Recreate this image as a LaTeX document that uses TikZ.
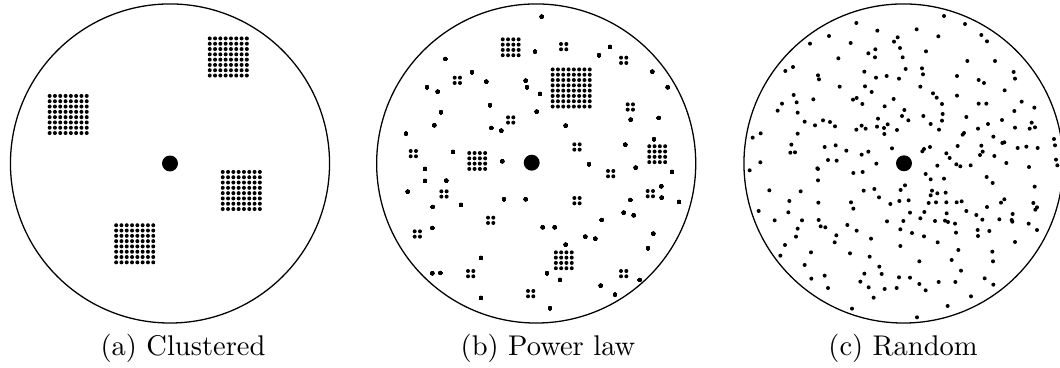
\documentclass[tikz,border=0pt]{standalone}
\usepackage{amssymb}

% n x n block of small dots centred at (#1,#2)
\newcommand{\dotgrid}[3]{%
	\foreach \i in {1,...,#3}{\foreach \j in {1,...,#3}{
		\fill (#1+5.3*\i-2.65*#3-2.65, #2+5.3*\j-2.65*#3-2.65) circle[radius=0.7pt];}}}

\begin{document}
\begin{tikzpicture}[x=0.351pt, y=-0.351pt,
		disc/.style={line width=0.45pt},
		caption/.style={anchor=base, inner sep=0pt}]
			\useasboundingbox (0, 0) rectangle (1060, 368);
			% (a) clustered
			\draw[disc] (170, 163.5) circle[radius=56pt];
			\fill (170, 163.5) circle[radius=2.8pt];
			\dotgrid{228.3}{57}{8}
			\dotgrid{68.2}{114.5}{8}
			\dotgrid{241.3}{190.5}{8}
			\dotgrid{134.7}{243.8}{8}
			\node[caption] (capA) at (183, 356) {(a) Clustered};
			% (b) power law
			\draw[disc] (536.2, 163.5) circle[radius=56pt];
			\fill (531.7, 162.7) circle[radius=2.8pt];
			\dotgrid{571.2}{88}{8}
			\dotgrid{510.7}{47.3}{4}
			\dotgrid{477.2}{161}{4}
			\dotgrid{657.2}{154.2}{4}
			\dotgrid{563.8}{260.3}{4}
			\foreach \X/\Y in {611/140, 791/181, 292/241, 811/321, 452/360, 651/441, 160/461, 752/521,
				252/582, 871/581, 651/602, 392/661, 172/702, 332/821, 791/821, 512/881}
				\dotgrid{360+\X/3}{\Y/3}{2}
			\foreach \X/\Y in {545/50, 525/155, 750/141, 717/166, 256/177, 336/217, 379/245, 497/242,
				501/262, 201/262, 233/275, 540/282, 877/215, 923/262, 390/316, 530/335, 243/337, 812/359,
				896/354, 223/376, 394/384, 424/392, 617/377, 138/401, 882/418, 796/434, 279/456, 427/484,
				687/493, 195/507, 827/503, 936/516, 195/543, 259/542, 904/559, 143/575, 432/598, 497/598,
				303/615, 218/621, 811/600, 905/593, 957/606, 791/638, 821/646, 725/660, 548/682, 584/682,
				217/684, 676/710, 706/716, 880/701, 617/734, 864/745, 363/774, 217/820, 241/819, 561/820,
				600/840, 839/840, 722/857, 765/884, 363/894, 570/925}
				\fill (360+\X/3, \Y/3) circle[radius=0.7pt];
			\node[caption] (capB) at (548, 356) {(b) Power law};
			% (c) random
			\draw[disc] (903.5, 163.5) circle[radius=56pt];
			\fill (904, 163.3) circle[radius=2.8pt];
			\foreach \X/\Y in {672/48, 735/72, 409/69, 472/92, 590/88, 327/108, 784/105, 655/109, 533/112,
				522/125, 801/124, 270/131, 392/129, 540/144, 466/148, 445/160, 618/154, 465/172, 548/172,
				355/175, 742/183, 825/183, 219/201, 196/213, 557/207, 606/205, 433/215, 609/223, 294/226,
				297/238, 468/233, 500/228, 537/236, 711/228, 776/240, 792/249, 881/216, 885/236, 359/260,
				435/259, 455/276, 601/260, 711/287, 854/271, 639/280, 650/293, 221/285, 280/298, 186/311,
				173/332, 230/307, 399/299, 410/294, 427/312, 521/297, 666/312, 776/311, 799/311, 905/305,
				883/333, 943/323, 494/319, 553/330, 546/348, 565/361, 610/348, 668/342, 666/362, 739/351,
				233/338, 254/365, 285/376, 309/361, 330/366, 345/379, 474/356, 471/380, 492/384, 503/373,
				493/402, 531/390, 632/372, 657/389, 774/386, 804/372, 846/360, 885/383, 935/368, 929/386,
				945/382, 409/389, 425/377, 437/386, 122/400, 98/413, 233/401, 732/399, 728/404, 820/410,
				847/429, 853/427, 214/434, 211/458, 225/457, 314/441, 347/436, 379/452, 425/464, 445/455,
				516/445, 607/454, 612/447, 630/441, 679/460, 689/474, 713/438, 784/437, 780/465, 788/455,
				823/468, 893/444, 919/440, 953/444, 1002/417, 1005/436, 121/487, 89/511, 324/480, 350/482,
				469/491, 292/505, 294/507, 400/519, 428/516, 294/541, 652/497, 709/493, 721/499, 752/496,
				859/489, 927/501, 1008/479, 1012/496, 617/522, 632/538, 672/536, 800/531, 818/549, 148/571,
				242/574, 431/572, 463/567, 477/592, 542/570, 555/556, 636/572, 632/586, 652/580, 677/578,
				944/560, 208/603, 295/608, 393/607, 400/626, 511/612, 538/603, 566/601, 626/609, 648/607,
				679/607, 710/607, 725/604, 853/598, 843/608, 801/621, 940/609, 951/622, 946/629, 116/633,
				205/637, 570/638, 613/636, 680/640, 739/633, 769/645, 878/642, 164/661, 246/661, 296/660,
				302/679, 316/682, 382/675, 410/692, 501/664, 550/663, 601/655, 645/663, 675/662, 684/666,
				705/671, 787/659, 838/658, 875/660, 877/665, 926/671, 951/690, 233/686, 228/710, 349/706,
				344/727, 453/716, 541/688, 576/699, 612/709, 708/698, 773/690, 774/708, 808/693, 653/727,
				885/726, 195/735, 181/767, 273/757, 390/760, 449/770, 541/738, 715/750, 817/755, 819/784,
				254/795, 598/784, 695/780, 478/800, 485/822, 433/821, 723/812, 274/836, 314/827, 421/845,
				537/832, 570/833, 324/864, 446/862, 494/867, 530/864, 598/852, 617/871, 656/846, 706/846,
				794/835, 820/854, 461/893, 753/889, 683/918, 396/926, 591/952}
				\fill (720+\X/3, \Y/3) circle[radius=0.7pt];
			\node[caption] (capC) at (903, 356) {(c) Random};
		\end{tikzpicture}
\end{document}
